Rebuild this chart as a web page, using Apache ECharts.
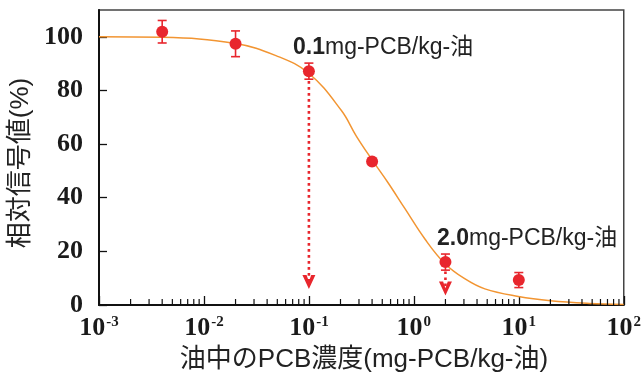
<!DOCTYPE html>
<html><head><meta charset="utf-8">
<script src="https://cdn.jsdelivr.net/npm/echarts@6/dist/echarts.min.js"></script>
<style>html,body{margin:0;padding:0;background:#fff}#c{width:644px;height:377px}</style>
</head><body><div id="c"></div>
<script>
// measured points (concentration mg-PCB/kg-oil, relative signal %)
const concentrations = [0.004, 0.02, 0.1, 0.4, 2, 10];
const signals = [101.9, 97.4, 87.2, 53.5, 16.0, 9.3];
const errors = [4.2, 4.8, 3.0, 0, 3.0, 2.8];
// fitted curve
const curveX = [0.001, 0.004, 0.02, 0.0485, 0.099, 0.204, 0.283, 0.394, 0.57, 0.82, 1.28, 1.97, 3.05, 4.75, 9.9, 20, 47, 100];
const curveY = [100, 99.8, 97.5, 93, 86.5, 72.5, 63, 54.5, 45.5, 36, 24.5, 15.5, 9.8, 6, 3.2, 1.6, 0.6, 0.2];
// dotted arrows
const arrowX = [0.1, 2];
const arrowTop = [83.5, 12.5];
const arrowBottom = [6.0, 3.5];
// ticks
const decades = [0.001, 0.01, 0.1, 1, 10];
const minorMultipliers = [2, 3, 4, 5, 6, 7, 8, 9];
const yTickInterval = 20;
const annotations = ['0.1', '2.0'];
const annotationUnit = 'mg-PCB/kg-油';
const xTitle = '油中のPCB濃度(mg-PCB/kg-油)';
const yTitle = '相対信号値(%)';

const RED = '#E8262D';
const ORANGE = '#F29532';
const SERIF = '"Liberation Serif","Times New Roman",serif';
const SANS = '"Liberation Sans",Arial,"Noto Sans CJK JP",sans-serif';

const minorTicks = [];
decades.forEach(d => minorMultipliers.forEach(m => minorTicks.push([d * m, 0])));

const chart = echarts.init(document.getElementById('c'));
const arrowPath = 'path://M0,0 L4.5,0 L7,7 L9.5,0 L14,0 L7,15 Z';

const arrowSeries = arrowX.map((x, i) => ({
  type: 'line',
  data: [[x, arrowTop[i]], [x, arrowBottom[i] + 2]],
  symbol: 'none',
  lineStyle: { color: RED, width: 2.6, type: [2.6, 3.4] },
  z: 3,
  silent: true
}));

chart.setOption({
  animation: false,
  grid: { left: 99, right: 17, top: 10, bottom: 72, show: true, borderColor: '#444', borderWidth: 1.5 },
  xAxis: {
    type: 'log', logBase: 10, min: 0.001, max: 100,
    axisLine: { lineStyle: { color: '#111', width: 2 } },
    axisTick: { inside: true, length: 9, lineStyle: { color: '#111', width: 1.3 } },
    splitLine: { show: false },
    axisLabel: {
      margin: 10,
      formatter: v => '{b|10}{s|' + Math.round(Math.log10(v)) + '}',
      rich: {
        b: { fontSize: 26, fontWeight: 'bold', fontFamily: SERIF, color: '#1a1a1a' },
        s: { fontSize: 15, fontWeight: 'bold', fontFamily: SERIF, color: '#1a1a1a', verticalAlign: 'top', padding: [0, 0, 0, 1] }
      }
    }
  },
  yAxis: {
    type: 'value', min: 0, max: 110, interval: yTickInterval,
    axisLine: { show: true, lineStyle: { color: '#111', width: 2 } },
    axisTick: { show: true, inside: true, length: 8, lineStyle: { color: '#111', width: 1.3 } },
    splitLine: { show: false },
    axisLabel: {
      margin: 16, showMaxLabel: false,
      formatter: v => (v > 100 ? '' : String(v)),
      fontSize: 26, fontWeight: 'bold', fontFamily: SERIF, color: '#1a1a1a'
    }
  },
  graphic: [
    { type: 'text', x: 21, y: 163, rotation: Math.PI / 2,
      style: { text: yTitle, fontSize: 26, fontFamily: SANS, fill: '#222', align: 'center', verticalAlign: 'middle' } },
    { type: 'text', x: 364, y: 360,
      style: { text: xTitle, fontSize: 26, fontFamily: SANS, fill: '#222', align: 'center', verticalAlign: 'middle' } },
    { type: 'text', x: 293, y: 48,
      style: { text: '{n|' + annotations[0] + '}{t|' + annotationUnit + '}', verticalAlign: 'middle',
        rich: { n: { fontSize: 23, fontWeight: 'bold', fontFamily: SANS, fill: '#222' },
                t: { fontSize: 23, fontFamily: SANS, fill: '#222' } } } },
    { type: 'text', x: 437, y: 239,
      style: { text: '{n|' + annotations[1] + '}{t|' + annotationUnit + '}', verticalAlign: 'middle',
        rich: { n: { fontSize: 23, fontWeight: 'bold', fontFamily: SANS, fill: '#222' },
                t: { fontSize: 23, fontFamily: SANS, fill: '#222' } } } }
  ],
  series: [
    {
      type: 'custom', data: minorTicks, silent: true, z: 4,
      renderItem: (params, api) => {
        const p = api.coord([api.value(0), api.value(1)]);
        return { type: 'line', shape: { x1: p[0], y1: p[1], x2: p[0], y2: p[1] - 6 }, style: { stroke: '#111', lineWidth: 1.2 } };
      }
    },
    {
      type: 'line', data: curveX.map((x, i) => [x, curveY[i]]), smooth: 0.4, symbol: 'none',
      lineStyle: { color: ORANGE, width: 1.5 }, z: 2, silent: true
    },
    ...arrowSeries,
    {
      type: 'scatter', data: arrowX.map((x, i) => [x, arrowBottom[i]]),
      symbol: arrowPath, symbolSize: [13, 14], symbolOffset: [0, -7], symbolKeepAspect: false,
      itemStyle: { color: RED, opacity: 1 }, z: 4, silent: true
    },
    {
      type: 'custom', silent: true, z: 5,
      data: concentrations.map((x, i) => [x, signals[i], errors[i]]),
      renderItem: (params, api) => {
        const e = api.value(2);
        if (!e) return null;
        const t = api.coord([api.value(0), api.value(1) + e]);
        const b = api.coord([api.value(0), api.value(1) - e]);
        const st = { stroke: RED, lineWidth: 1.6 };
        return { type: 'group', children: [
          { type: 'line', shape: { x1: t[0], y1: t[1], x2: b[0], y2: b[1] }, style: st },
          { type: 'line', shape: { x1: t[0] - 4.5, y1: t[1], x2: t[0] + 4.5, y2: t[1] }, style: st },
          { type: 'line', shape: { x1: b[0] - 4.5, y1: b[1], x2: b[0] + 4.5, y2: b[1] }, style: st }
        ] };
      }
    },
    {
      type: 'scatter', data: concentrations.map((x, i) => [x, signals[i]]),
      symbol: 'circle', symbolSize: 12, itemStyle: { color: RED, opacity: 1 }, z: 6, silent: true
    }
  ]
});
</script></body></html>
